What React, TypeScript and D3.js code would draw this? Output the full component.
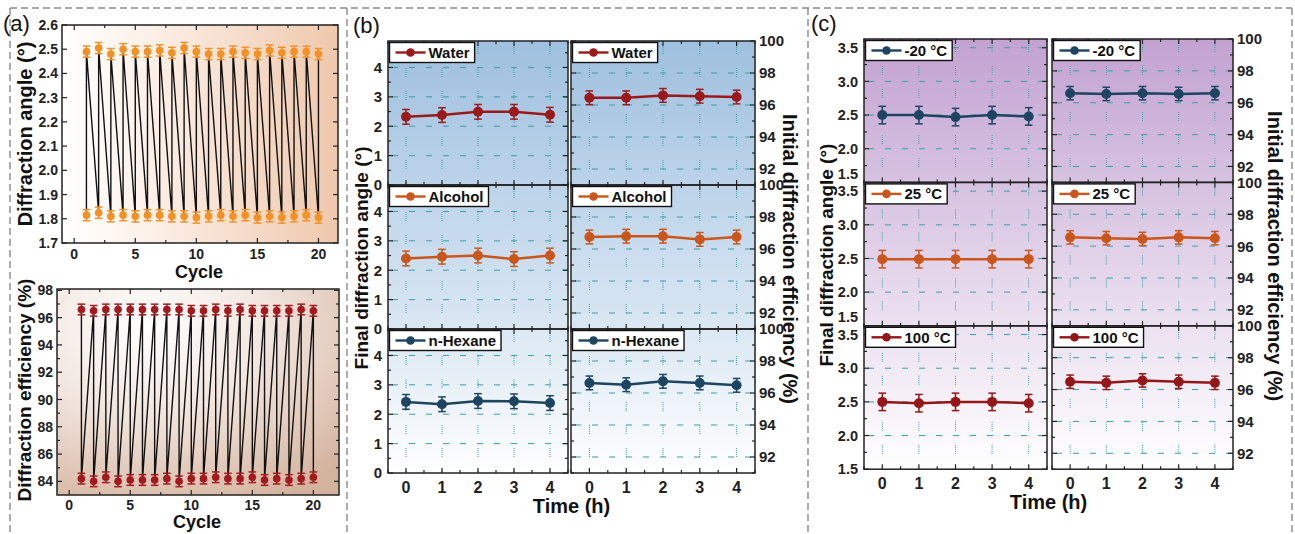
import React, { useRef, useEffect } from "react";
import * as d3 from "d3";

const W = 1295;
const H = 534;
const FONT = "'Liberation Sans', Arial, Helvetica, sans-serif";

// (a) cycling test
const cycles = [1, 2, 3, 4, 5, 6, 7, 8, 9, 10, 11, 12, 13, 14, 15, 16, 17, 18, 19, 20];
const angleHigh = [2.49, 2.505, 2.48, 2.5, 2.49, 2.49, 2.495, 2.485, 2.505, 2.49, 2.48, 2.48, 2.49, 2.485, 2.48, 2.495, 2.485, 2.49, 2.49, 2.48];
const angleLow = [1.815, 1.825, 1.81, 1.815, 1.81, 1.815, 1.815, 1.81, 1.81, 1.805, 1.81, 1.815, 1.81, 1.815, 1.805, 1.81, 1.805, 1.81, 1.815, 1.805];
const effHigh = [96.6, 96.5, 96.6, 96.6, 96.6, 96.6, 96.6, 96.6, 96.6, 96.5, 96.5, 96.6, 96.5, 96.6, 96.5, 96.5, 96.5, 96.5, 96.6, 96.5];
const effLow = [84.2, 84.0, 84.3, 84.0, 84.1, 84.1, 84.1, 84.2, 84.0, 84.2, 84.2, 84.3, 84.2, 84.2, 84.3, 84.1, 84.2, 84.1, 84.2, 84.3];
const angleErr = 0.023;
const effErr = 0.39;
const angleTicks = [1.7, 1.8, 1.9, 2.0, 2.1, 2.2, 2.3, 2.4, 2.5, 2.6];
const effTicks = [84, 86, 88, 90, 92, 94, 96, 98];
const cycleTicks = [0, 5, 10, 15, 20];

// (b) solvents, (c) temperatures
const times = [0, 1, 2, 3, 4];
const solvents = ["Water", "Alcohol", "n-Hexane"];
const waterAngle = [2.32, 2.38, 2.49, 2.49, 2.39];
const waterEff = [96.45, 96.45, 96.6, 96.55, 96.5];
const alcoholAngle = [2.4, 2.46, 2.5, 2.38, 2.5];
const alcoholEff = [96.75, 96.8, 96.8, 96.6, 96.75];
const hexaneAngle = [2.42, 2.34, 2.45, 2.44, 2.38];
const hexaneEff = [96.63, 96.52, 96.73, 96.63, 96.48];
const solventColors = ["#9a1a1c", "#c9561c", "#1d4461"];

const temps = ["-20 \u00b0C", "25 \u00b0C", "100 \u00b0C"];
const coldAngle = [2.5, 2.5, 2.47, 2.5, 2.48];
const coldEff = [96.6, 96.55, 96.6, 96.55, 96.6];
const roomAngle = [2.49, 2.49, 2.49, 2.49, 2.49];
const roomEff = [96.55, 96.5, 96.45, 96.55, 96.5];
const hotAngle = [2.5, 2.48, 2.5, 2.5, 2.48];
const hotEff = [96.49, 96.42, 96.57, 96.49, 96.42];
const tempColors = ["#1d4461", "#c9561c", "#931719"];

const solventAngleTicks = [0, 1, 2, 3, 4];
const tempAngleTicks = [1.5, 2.0, 2.5, 3.0, 3.5];
const effRightTicks = [92, 94, 96, 98, 100];

function addTicks(g: any, x: any, y: any, xMajor: number[], xMinor: number[], yMajor: number[], yMinor: number[]) {
  const [x0, x1] = x.range();
  const [y1, y0] = y.range();
  const t = g.append("g").attr("stroke", "#222").attr("stroke-width", 1.2);
  const put = (vals: number[], len: number) => {
    vals.forEach((v) => {
      const px = x(v);
      t.append("line").attr("x1", px).attr("x2", px).attr("y1", y1).attr("y2", y1 - len);
      t.append("line").attr("x1", px).attr("x2", px).attr("y1", y0).attr("y2", y0 + len);
    });
  };
  const putY = (vals: number[], len: number) => {
    vals.forEach((v) => {
      const py = y(v);
      t.append("line").attr("x1", x0).attr("x2", x0 + len).attr("y1", py).attr("y2", py);
      t.append("line").attr("x1", x1).attr("x2", x1 - len).attr("y1", py).attr("y2", py);
    });
  };
  put(xMajor, 5);
  put(xMinor, 3);
  putY(yMajor, 5);
  putY(yMinor, 3);
}

function addGrid(g: any, x: any, y: any, xMajor: number[], yMajor: number[]) {
  const [x0, x1] = x.range();
  const [y1, y0] = y.range();
  const gr = g.append("g").attr("stroke", "#3a9ea4").attr("stroke-width", 1);
  xMajor.forEach((v) => {
    gr.append("line").attr("x1", x(v)).attr("x2", x(v)).attr("y1", y0 + 4).attr("y2", y1)
      .attr("stroke-dasharray", "1,1,1,1,1,1,1,1,1,14");
  });
  yMajor.forEach((v) => {
    if (y(v) < y0 + 2 || y(v) > y1 - 2) return;
    gr.append("line").attr("x1", x0 + 4).attr("x2", x1).attr("y1", y(v)).attr("y2", y(v))
      .attr("stroke-dasharray", "6,11");
  });
}

function addSeries(g: any, x: any, y: any, xs: number[], ys: number[], err: number, color: string, r: number, line = true) {
  if (line) {
    g.append("path")
      .attr("d", d3.line<number>().x((_, i) => x(xs[i])).y((d) => y(d))(ys))
      .attr("fill", "none").attr("stroke", color).attr("stroke-width", 2.5);
  }
  const e = g.append("g").attr("stroke", color).attr("stroke-width", 1.5);
  ys.forEach((v, i) => {
    const px = x(xs[i]);
    e.append("line").attr("x1", px).attr("x2", px).attr("y1", y(v - err)).attr("y2", y(v + err));
    e.append("line").attr("x1", px - 3.8).attr("x2", px + 3.8).attr("y1", y(v - err)).attr("y2", y(v - err));
    e.append("line").attr("x1", px - 3.8).attr("x2", px + 3.8).attr("y1", y(v + err)).attr("y2", y(v + err));
  });
  g.append("g").selectAll("circle").data(ys).join("circle")
    .attr("cx", (_: number, i: number) => x(xs[i])).attr("cy", (d: number) => y(d))
    .attr("r", r).attr("fill", color);
}

function addLegend(g: any, lx: number, ly: number, label: string, color: string) {
  const lg = g.append("g").attr("transform", `translate(${lx},${ly})`);
  const box = lg.append("rect").attr("height", 20).attr("fill", "#fff").attr("stroke", "#111").attr("stroke-width", 1.4);
  lg.append("line").attr("x1", 6).attr("x2", 36).attr("y1", 10).attr("y2", 10).attr("stroke", color).attr("stroke-width", 2.4);
  lg.append("circle").attr("cx", 21).attr("cy", 10).attr("r", 4.3).attr("fill", color);
  const txt = lg.append("text").attr("x", 39).attr("y", 15.5).attr("font-size", 15).attr("font-weight", "bold")
    .attr("fill", "#111").text(label);
  const w = (txt.node() as SVGTextElement).getComputedTextLength();
  box.attr("width", 39 + w + 5);
}

function frame(g: any, x0: number, x1: number, y0: number, y1: number) {
  g.append("rect").attr("x", x0).attr("y", y0).attr("width", x1 - x0).attr("height", y1 - y0)
    .attr("fill", "none").attr("stroke", "#222").attr("stroke-width", 1.5);
}

function yLabels(g: any, y: any, vals: number[], xPos: number, anchor: string, fmt: (v: number) => string, size: number, lift = 0) {
  g.append("g").selectAll("text").data(vals).join("text")
    .attr("x", xPos).attr("y", (d: number, i: number) => y(d) - (i === 0 ? lift : 0)).attr("dy", "0.36em")
    .attr("text-anchor", anchor).attr("font-size", size).attr("font-weight", "bold").attr("fill", "#222")
    .text(fmt);
}

function vTitle(g: any, x: number, y: number, text: string, size: number, rot: number) {
  g.append("text").attr("transform", `translate(${x},${y}) rotate(${rot})`)
    .attr("text-anchor", "middle").attr("dy", "0.35em").attr("font-size", size).attr("font-weight", "bold")
    .attr("fill", "#111").text(text);
}

function hTitle(g: any, x: number, y: number, text: string, size: number) {
  g.append("text").attr("x", x).attr("y", y).attr("text-anchor", "middle").attr("dy", "0.35em")
    .attr("font-size", size).attr("font-weight", "bold").attr("fill", "#111").text(text);
}

function gradient(defs: any, id: string, stops: [number, string][], radial = false) {
  const gr = radial
    ? defs.append("radialGradient").attr("id", id).attr("cx", "32%").attr("cy", "18%").attr("r", "95%")
    : defs.append("linearGradient").attr("id", id);
  stops.forEach(([o, c]) => gr.append("stop").attr("offset", o).attr("stop-color", c));
  return gr;
}

export default function App() {
  const svgRef = useRef<SVGSVGElement>(null);

  useEffect(() => {
    const svg = d3.select(svgRef.current);
    svg.selectAll("*").remove();
    svg.attr("font-family", FONT);
    const defs = svg.append("defs");

    gradient(defs, "gA1", [[0, "#ffffff"], [0.3, "#fcf1ea"], [1, "#efc8ac"]]).attr("x1", 0).attr("x2", 1).attr("y1", 0).attr("y2", 0);
    gradient(defs, "gA2", [[0, "#ffffff"], [0.45, "#f2e6df"], [1, "#d4b39e"]], true);
    gradient(defs, "gB", [[0, "#9fc0df"], [0.33, "#bcd3ea"], [0.66, "#dae7f3"], [1, "#ffffff"]]).attr("x1", 0).attr("x2", 0).attr("y1", 0).attr("y2", 1);
    gradient(defs, "gC", [[0, "#c3a2d2"], [0.33, "#d7c2e1"], [0.66, "#ebe0f0"], [1, "#ffffff"]]).attr("x1", 0).attr("x2", 0).attr("y1", 0).attr("y2", 1);

    // dashed outer frame and separators
    const dash = svg.append("g").attr("stroke", "#8a8a8a").attr("stroke-width", 1.4).attr("stroke-dasharray", "7,4").attr("fill", "none");
    dash.append("line").attr("x1", 10).attr("x2", 1292).attr("y1", 8).attr("y2", 8);
    [10, 347, 808, 1292].forEach((xv) => dash.append("line").attr("x1", xv).attr("x2", xv).attr("y1", 8).attr("y2", H));

    // ---------- (a) top: diffraction angle ----------
    const gA = svg.append("g");
    const xa1 = d3.scaleLinear().domain([-1, 21.6]).range([62, 338]);
    const ya1 = d3.scaleLinear().domain([1.7, 2.6]).range([243, 25]);
    gA.append("rect").attr("x", 62).attr("y", 25).attr("width", 276).attr("height", 218).attr("fill", "url(#gA1)");
    const zigA: [number, number][] = [];
    cycles.forEach((c, i) => { zigA.push([c, angleLow[i]]); zigA.push([c, angleHigh[i]]); });
    gA.append("path").attr("d", d3.line().x((d) => xa1(d[0])).y((d) => ya1(d[1]))(zigA))
      .attr("fill", "none").attr("stroke", "#111").attr("stroke-width", 1.4);
    addSeries(gA, xa1, ya1, cycles, angleHigh, angleErr, "#f39125", 3.8, false);
    addSeries(gA, xa1, ya1, cycles, angleLow, angleErr, "#f39125", 3.8, false);
    addTicks(gA, xa1, ya1, cycleTicks, [2.5, 7.5, 12.5, 17.5], angleTicks, []);
    frame(gA, 62, 338, 25, 243);
    yLabels(gA, ya1, angleTicks, 58, "end", d3.format(".1f"), 14);
    gA.append("g").selectAll("text").data(cycleTicks).join("text")
      .attr("x", (d: number) => xa1(d)).attr("y", 259).attr("text-anchor", "middle").attr("font-size", 14)
      .attr("font-weight", "bold").attr("fill", "#222").text((d: number) => d);
    vTitle(gA, 25, 134, "Diffraction angle (\u00b0)", 20, -90);
    hTitle(gA, 199, 272, "Cycle", 18);

    // ---------- (a) bottom: diffraction efficiency ----------
    const xa2 = d3.scaleLinear().domain([-1, 22.1]).range([57, 339]);
    const ya2 = d3.scaleLinear().domain([83, 98.1]).range([495, 289]);
    gA.append("rect").attr("x", 57).attr("y", 289).attr("width", 282).attr("height", 206).attr("fill", "url(#gA2)");
    const zigB: [number, number][] = [];
    cycles.forEach((c, i) => { zigB.push([c, effHigh[i]]); zigB.push([c, effLow[i]]); });
    gA.append("path").attr("d", d3.line().x((d) => xa2(d[0])).y((d) => ya2(d[1]))(zigB))
      .attr("fill", "none").attr("stroke", "#111").attr("stroke-width", 1.4);
    addSeries(gA, xa2, ya2, cycles, effHigh, effErr, "#a3191e", 3.8, false);
    addSeries(gA, xa2, ya2, cycles, effLow, effErr, "#a3191e", 3.8, false);
    addTicks(gA, xa2, ya2, cycleTicks, [2.5, 7.5, 12.5, 17.5], effTicks, [85, 87, 89, 91, 93, 95, 97]);
    frame(gA, 57, 339, 289, 495);
    yLabels(gA, ya2, effTicks, 53, "end", (v) => String(v), 14);
    gA.append("g").selectAll("text").data(cycleTicks).join("text")
      .attr("x", (d: number) => xa2(d)).attr("y", 510).attr("text-anchor", "middle").attr("font-size", 14)
      .attr("font-weight", "bold").attr("fill", "#222").text((d: number) => d);
    vTitle(gA, 24, 390, "Diffraction efficiency (%)", 19, -90);
    hTitle(gA, 197, 522, "Cycle", 18);

    // ---------- (b) and (c) stacked panels ----------
    const drawBlock = (cfg: any) => {
      const g = svg.append("g");
      const { lx0, lx1, rx0, rx1, top, rowH, leftDomain, leftTicks, leftMinor, leftFmt, grad, labels, colors, angles, effs, angErr, effErrB } = cfg;
      const xl = d3.scaleLinear().domain([-0.5, 4.5]).range([lx0, lx1]);
      const xr = d3.scaleLinear().domain([-0.5, 4.5]).range([rx0, rx1]);
      g.append("rect").attr("x", lx0).attr("y", top).attr("width", lx1 - lx0).attr("height", rowH * 3).attr("fill", `url(#${grad})`);
      g.append("rect").attr("x", rx0).attr("y", top).attr("width", rx1 - rx0).attr("height", rowH * 3).attr("fill", `url(#${grad})`);
      const xMinor = [-0.5, 0.5, 1.5, 2.5, 3.5, 4.5];
      labels.forEach((lab: string, r: number) => {
        const y0 = top + r * rowH;
        const y1 = y0 + rowH;
        const yl = d3.scaleLinear().domain(leftDomain).range([y1, y0]);
        const yr = d3.scaleLinear().domain([91, 100]).range([y1, y0]);
        addGrid(g, xl, yl, times, leftTicks);
        addGrid(g, xr, yr, times, [92, 94, 96, 98]);
        addSeries(g, xl, yl, times, angles[r], angErr, colors[r], 5);
        addSeries(g, xr, yr, times, effs[r], effErrB, colors[r], 5);
        addTicks(g, xl, yl, times, xMinor, leftTicks, leftMinor);
        addTicks(g, xr, yr, times, xMinor, effRightTicks, [91, 93, 95, 97, 99]);
        frame(g, lx0, lx1, y0, y1);
        frame(g, rx0, rx1, y0, y1);
        addLegend(g, lx0 + 1.5, y0 + 1.5, lab, colors[r]);
        addLegend(g, rx0 + 1.5, y0 + 1.5, lab, colors[r]);
        yLabels(g, yl, leftTicks, lx0 - 6, "end", leftFmt, cfg.leftSize, r < 2 ? cfg.lift : 0);
        yLabels(g, yr, effRightTicks, rx1 + 4, "start", (v) => String(v), 15);
      });
      const yb = top + rowH * 3;
      [xl, xr].forEach((xs) => {
        g.append("g").selectAll("text").data(times).join("text")
          .attr("x", (d: number) => xs(d)).attr("y", yb + 20).attr("text-anchor", "middle")
          .attr("font-size", 16).attr("font-weight", "bold").attr("fill", "#222").text((d: number) => d);
      });
      vTitle(g, cfg.ltX, top + rowH * 1.5 + 1, "Final diffraction angle (\u00b0)", 19, -90);
      vTitle(g, cfg.rtX, top + rowH * 1.5 + 2, "Initial diffraction efficiency (%)", 20, 90);
      hTitle(g, (lx0 + rx1) / 2, yb + 33, "Time (h)", 20);
    };

    drawBlock({
      lx0: 388, lx1: 568, rx0: 571, rx1: 755, top: 41, rowH: 144,
      leftDomain: [0, 4.9], leftTicks: solventAngleTicks, leftMinor: [0.5, 1.5, 2.5, 3.5, 4.5], leftFmt: (v: number) => String(v), lift: 0, leftSize: 15,
      grad: "gB", labels: solvents, colors: solventColors,
      angles: [waterAngle, alcoholAngle, hexaneAngle], effs: [waterEff, alcoholEff, hexaneEff],
      angErr: 0.25, effErrB: 0.43, ltX: 361, rtX: 790,
    });

    drawBlock({
      lx0: 864, lx1: 1047, rx0: 1052, rx1: 1233, top: 39, rowH: 143.4,
      leftDomain: [1.5, 3.63], leftTicks: tempAngleTicks, leftMinor: [1.75, 2.25, 2.75, 3.25], leftFmt: d3.format(".1f"), lift: 9, leftSize: 14.5,
      grad: "gC", labels: temps, colors: tempColors,
      angles: [coldAngle, roomAngle, hotAngle], effs: [coldEff, roomEff, hotEff],
      angErr: 0.13, effErrB: 0.42, ltX: 826, rtX: 1275,
    });

    // panel letters
    const pl = svg.append("g").attr("font-size", 22).attr("fill", "#111");
    pl.append("text").attr("x", 3).attr("y", 31).text("(a)");
    pl.append("text").attr("x", 353).attr("y", 33).text("(b)");
    pl.append("text").attr("x", 811).attr("y", 31).text("(c)");
  }, []);

  return (
    <svg ref={svgRef} width={W} height={H}
      style={{ position: "absolute", left: 0, top: 0, background: "#fff" }} />
  );
}
